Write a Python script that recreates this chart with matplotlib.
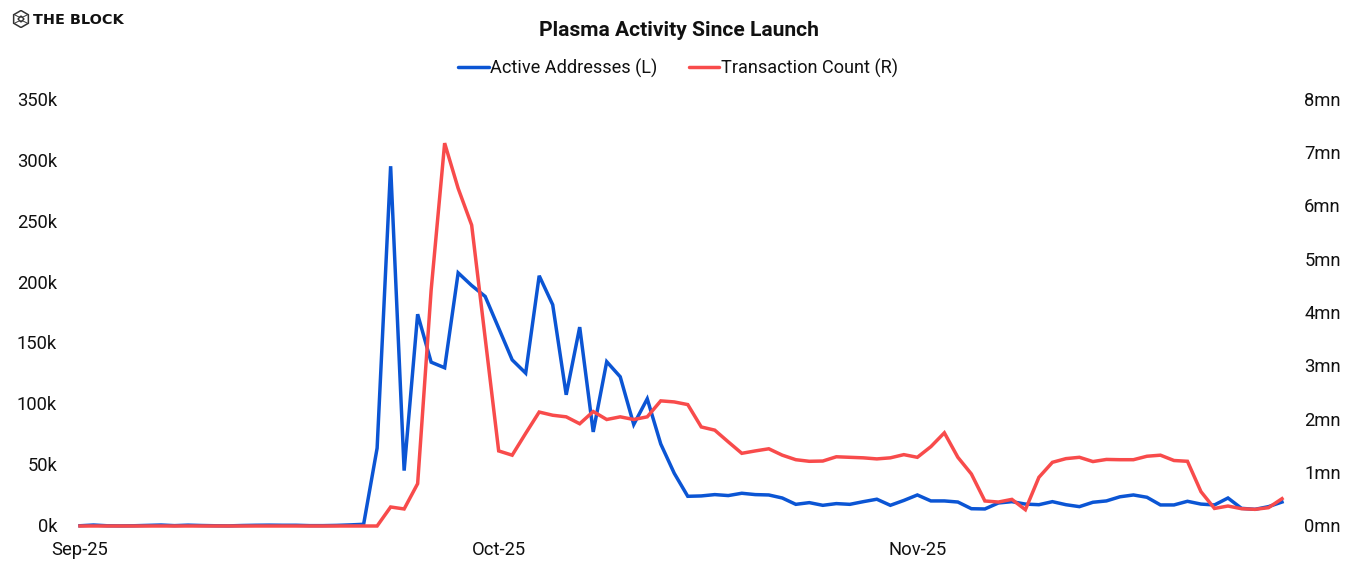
import matplotlib
matplotlib.use("Agg")
import matplotlib.pyplot as plt
from matplotlib.lines import Line2D
from matplotlib.patches import RegularPolygon
from matplotlib.transforms import ScaledTranslation

plt.rcParams['font.family'] = ['Roboto', 'DejaVu Sans']

W, H = 1346, 568

active_addresses_k = [
    0.2, 0.8, 0.2, 0.1, 0.2, 0.5, 0.8, 0.3, 0.7, 0.4, 0.2, 0.1, 0.4, 0.6, 0.7, 0.6, 0.6, 0.3, 0.3, 0.5,
    0.9, 1.4, 64, 295.6, 45.5, 174, 134.6, 130, 208, 197.6, 188.6, 162.6, 136.5, 125.6, 205.6, 181.8,
    107.8, 163.4, 77.3, 135, 122.6, 83.4, 104.5, 67.4, 43.3, 24.4, 24.7, 25.8, 25, 26.9, 25.8, 25.5,
    23, 17.8, 19.2, 17, 18.4, 17.8, 20, 22, 17, 21, 25.5, 20.6, 20.6, 19.7, 14.2, 14, 18.9, 20, 18,
    17.5, 20, 17.5, 15.9, 19.5, 20.6, 24, 25.5, 23.6, 17.3, 17.3, 20.3, 18, 17.3, 23, 14.5, 13.7, 15.9, 19.7,
]
transaction_count_mn = [
    0, 0, 0, 0, 0, 0, 0, 0, 0, 0, 0, 0, 0, 0, 0, 0, 0, 0, 0, 0,
    0, 0, 0, 0.357, 0.32, 0.795, 4.43, 7.19, 6.34, 5.65, 3.53, 1.41, 1.33, 1.74, 2.14, 2.08,
    2.05, 1.92, 2.15, 2.0, 2.05, 2.0, 2.05, 2.35, 2.33, 2.28, 1.86, 1.80, 1.58, 1.365, 1.41, 1.45,
    1.33, 1.245, 1.215, 1.22, 1.30, 1.29, 1.28, 1.26, 1.28, 1.34, 1.29, 1.49, 1.75, 1.29, 0.977, 0.47,
    0.45, 0.50, 0.306, 0.914, 1.196, 1.265, 1.29, 1.21, 1.25, 1.245, 1.245, 1.31, 1.33, 1.23, 1.215,
    0.645, 0.33, 0.375, 0.325, 0.313, 0.344, 0.513,
]
x_tick_positions = [0, 31, 62]
x_tick_labels = ["Sep-25", "Oct-25", "Nov-25"]
left_ticks = [0, 50, 100, 150, 200, 250, 300, 350]
left_labels = ["0k", "50k", "100k", "150k", "200k", "250k", "300k", "350k"]
right_ticks = [0, 1, 2, 3, 4, 5, 6, 7, 8]
right_labels = ["0mn", "1mn", "2mn", "3mn", "4mn", "5mn", "6mn", "7mn", "8mn"]

BLUE = "#0B55D4"
RED = "#F84B4B"
TXT = "#111111"

fig = plt.figure(figsize=(W / 100, H / 100), dpi=100, facecolor="white")
ax = fig.add_axes([80 / W, 1 - 526 / H, (1282 - 80) / W, (526 - 100) / H])
ax2 = ax.twinx()

xs = range(len(active_addresses_k))
ax.plot(xs, active_addresses_k, color=BLUE, lw=2.5, clip_on=False, solid_joinstyle="miter")
ax2.plot(xs, transaction_count_mn, color=RED, lw=2.5, clip_on=False, solid_joinstyle="miter")

ax.set_xlim(0, 89)
ax.set_ylim(0, 350)
ax2.set_ylim(0, 8)
ax.set_xticks(x_tick_positions, x_tick_labels)
ax.set_yticks(left_ticks, left_labels)
ax2.set_yticks(right_ticks, right_labels)
ax.tick_params(axis="x", length=0, pad=10.7, labelsize=13.2, labelcolor=TXT)
ax.tick_params(axis="y", length=0, pad=16.5, labelsize=13.2, labelcolor=TXT)
ax2.tick_params(axis="y", length=0, pad=16, labelsize=13.2, labelcolor=TXT)
nudge = ScaledTranslation(0, -1 / 100, fig.dpi_scale_trans)
for label in ax.get_yticklabels() + ax2.get_yticklabels():
    label.set_verticalalignment("center")
    label.set_transform(label.get_transform() + nudge)
for a in (ax, ax2):
    for s in a.spines.values():
        s.set_visible(False)
ax.patch.set_visible(False)

fig.text(678.5 / W, 1 - 30 / H, "Plasma Activity Since Launch", ha="center", va="center",
         fontsize=15.1, fontweight="bold", color=TXT)

handles = [Line2D([], [], color=BLUE, lw=2.5, solid_capstyle="round"),
           Line2D([], [], color=RED, lw=2.5, solid_capstyle="round")]
fig.legend(handles, ["Active Addresses (L)", "Transaction Count (R)"], loc="center",
           bbox_to_anchor=(678 / W, 1 - 68.5 / H), ncol=2, frameon=False, fontsize=13.05,
           handlelength=1.7, handletextpad=0.1, columnspacing=1.7, labelcolor=TXT)

# brand mark
fig.text(33 / W, 1 - 19.5 / H, "THE BLOCK", ha="left", va="center", fontsize=10.4,
         fontweight="bold", family="DejaVu Sans", color="#111111")
logo = fig.add_axes([12 / W, 1 - 28 / H, 18 / W, 18 / H])
logo.set_xlim(0, 18); logo.set_ylim(0, 18); logo.axis("off")
logo.add_patch(RegularPolygon((9, 9), 6, radius=8.5, fill=False, ec="#333333", lw=1.1))
logo.add_patch(RegularPolygon((9, 9), 4, radius=3, fill=False, ec="#333333", lw=1))
logo.plot([3, 7, 11, 15], [13, 11, 11, 13], color="#333333", lw=0.7)
logo.plot([3, 7, 11, 15], [5, 7, 7, 5], color="#333333", lw=0.7)

fig.savefig("out.png", dpi=100)
